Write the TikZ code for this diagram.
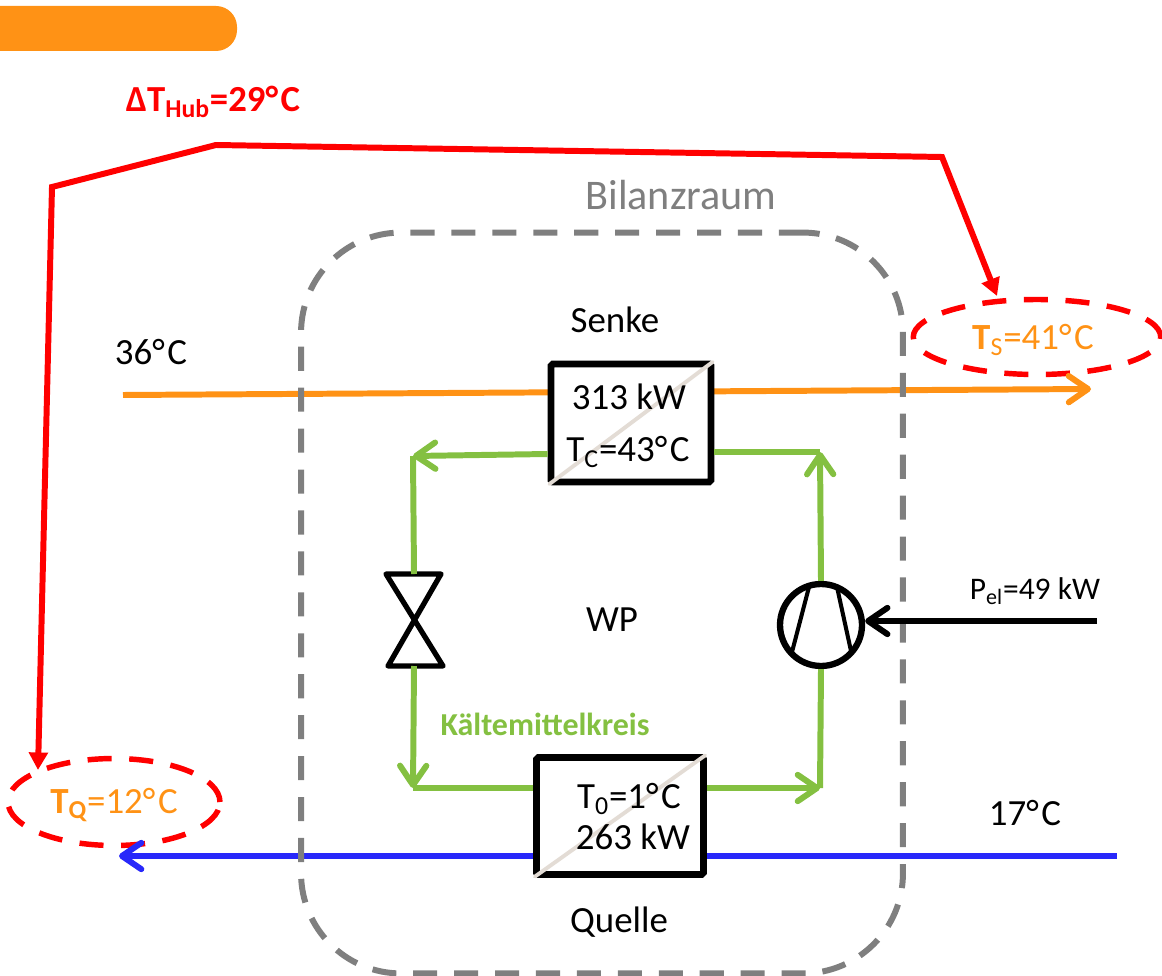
\documentclass[tikz,border=0pt]{standalone}
\usepackage{fontspec}
\setmainfont{Carlito}
\usetikzlibrary{arrows.meta,shapes.geometric}
\definecolor{wporange}{RGB}{255, 146, 21}
\definecolor{wpgreen}{RGB}{132, 192, 65}
\definecolor{wpblue}{RGB}{40, 40, 250}
\definecolor{wpgray}{RGB}{127, 127, 127}
\definecolor{wpdiag}{RGB}{227, 220, 213}
\newcommand{\degc}{°\kern0.07em C}
\tikzset{
  barb/.style={-{Straight Barb[length=11pt,width=15pt,round]}},
  flowline/.style={line width=3.4pt,barb},
  kreis/.style={line width=3.4pt,wpgreen},
  hubline/.style={line width=3.4pt,red,line cap=round},
  hubtip/.style={-{Triangle[length=10pt,width=10.5pt]}},
  hubring/.style={draw=red,line width=3.1pt,dash pattern=on 13.7pt off 10pt,ellipse,inner sep=0pt},
  wtbox/.style={draw=black,fill=white,line width=3.8pt,rounded corners=1pt,inner sep=0pt},
  wtdiag/.style={wpdiag,line width=2.2pt,line cap=round,shorten >=1.2pt,shorten <=1.2pt},
  label/.style={font=\fontsize{21}{24}\selectfont,inner sep=0pt},
  templabel/.style={label,wporange},
}
\begin{document}
\begin{tikzpicture}[x=0.02cm,y=-0.02cm]
                \useasboundingbox (0,0) rectangle (1162,976);

                % Header bar
                \fill[wporange] (0,6) [rounded corners=0.42cm] -- (237,6) -- (237,51) [sharp corners] -- (0,51) -- cycle;

                % Temperature lift
                \node[label, red, font=\fontsize{20.9}{24}\selectfont\bfseries] (hub) at (213,102) {ΔT\textsubscript{Hub}=29\degc};
                \node[hubring, minimum width=4.95cm, minimum height=1.5cm] (ringS) at (1037,337) {};
                \node[hubring, minimum width=4.24cm, minimum height=1.74cm] (ringQ) at (114,802) {};
                \node[templabel] (tempS) at (1033,340) {\textbf{T}\textsubscript{S}=41\degc};
                \node[templabel] (tempQ) at (114,805) {\textbf{T\textsubscript{Q}}=12\degc};
                \coordinate (hubA) at (942,157);
                \coordinate (hubB) at (216,145);
                \coordinate (hubC) at (52,187);
                \coordinate (hubS) at (997,296);
                \coordinate (hubQ) at (38,770);
                \draw[hubline, hubtip] (hubB) -- (hubA) -- (hubS);
                \draw[hubline, hubtip] (hubB) -- (hubC) -- (hubQ);

                % Sink and source streams
                \coordinate (sinkIn) at (123,395);
                \coordinate (sinkOut) at (1091,389);
                \coordinate (sourceIn) at (1117,856);
                \coordinate (sourceOut) at (119,856);
                \draw[flowline, wporange] (sinkIn) -- (sinkOut);
                \draw[flowline, wpblue] (sourceIn) -- (sourceOut);

                % Balance boundary
                \node[draw=wpgray, line width=3.4pt, dash pattern=on 13.7pt off 9.6pt, rounded corners=2cm,
                      minimum width=12.04cm, minimum height=14.82cm, inner sep=0pt] (bilanz) at (602,603) {};
                \node[label, wpgray, font=\fontsize{24}{28}\selectfont] (bilanzlabel) at (681,195) {Bilanzraum};

                % Heat exchangers
                \node[wtbox, minimum width=3.2cm, minimum height=2.36cm] (cond) at (631,423) {};
                \node[wtbox, minimum width=3.34cm, minimum height=2.34cm] (evap) at (620,816) {};
                \draw[wtdiag] (cond.south west) -- (cond.north east);
                \draw[wtdiag] (evap.south west) -- (evap.north east);
                \node[label] (condP) at (629,397) {313 kW};
                \node[label] (condT) at (628,452) {T\textsubscript{C}=43\degc};
                \node[label] (evapT) at (629,799) {T\textsubscript{0}=1\degc};
                \node[label] (evapP) at (633,837) {263 kW};

                % Compressor and valve
                \node[circle, draw, line width=3.6pt, minimum size=1.64cm, inner sep=0pt] (comp) at (821,625) {};
                \draw[line width=2.3pt] (809,587) -- (792,652);
                \draw[line width=2.3pt] (837,587) -- (851,651);
                \coordinate (valveTop) at (414,574);
                \coordinate (valveBot) at (414,666);
                \draw[line width=3pt, line join=round] (386,574) -- (441,574) -- (388,666) -- (443,666) -- cycle;

                % Refrigerant circuit
                \coordinate (cornerTL) at (413,456);
                \coordinate (cornerTR) at (820,452);
                \coordinate (cornerBL) at (413,788);
                \coordinate (cornerBR) at (820,788);
                \draw[kreis, barb] (cond.west |- 0,454) -- (cornerTL);
                \draw[kreis] (cornerTL) -- (valveTop);
                \draw[kreis, barb] (valveBot) -- (cornerBL);
                \draw[kreis] (cornerBL) -- (evap.west |- cornerBL);
                \draw[kreis, barb] (evap.east |- cornerBR) -- (cornerBR);
                \draw[kreis] (cornerBR) -- (comp.south);
                \draw[kreis, barb] (comp.north) -- (cornerTR);
                \draw[kreis] (cornerTR) -- (cond.east |- cornerTR);

                % Electrical power
                \coordinate (powerIn) at (1097,621);
                \draw[line width=3.4pt, barb] (powerIn) -- (comp.east |- powerIn);
                \node[label, font=\fontsize{17.9}{20}\selectfont] (power) at (1035,591) {P\textsubscript{el}=49 kW};

                % Labels
                \node[label] (senke) at (615,320) {Senke};
                \node[label] (quelle) at (619,922) {Quelle};
                \node[label] (wp) at (612,620) {WP};
                \node[label] (tempIn) at (151,352) {36\degc};
                \node[label] (tempOut) at (1025,813) {17\degc};
                \node[label, wpgreen, font=\fontsize{18.2}{20}\selectfont\bfseries] (kreislabel) at (545,724) {Kältemittelkreis};
            \end{tikzpicture}
\end{document}
